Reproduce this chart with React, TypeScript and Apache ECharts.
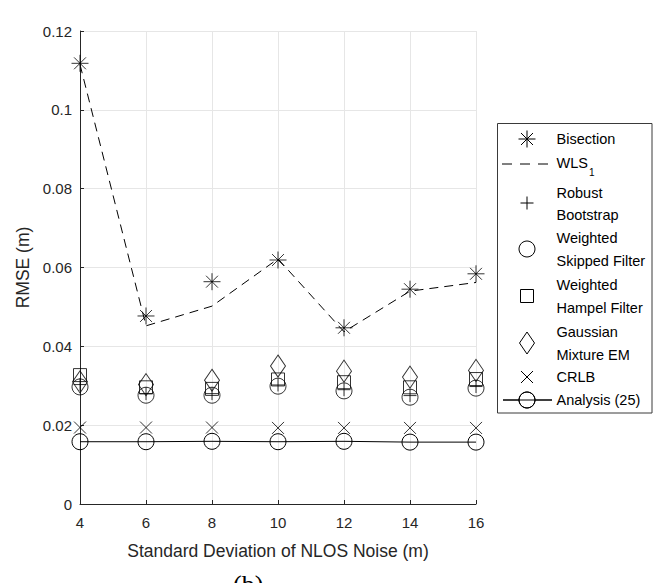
import React, { useEffect, useRef } from "react";
import * as echarts from "echarts";

const noiseStd = [4, 6, 8, 10, 12, 14, 16];
const xTicks = [4, 6, 8, 10, 12, 14, 16];
const yTicks = [0, 0.02, 0.04, 0.06, 0.08, 0.1, 0.12];

const bisection = [0.1118, 0.0477, 0.0564, 0.0619, 0.0447, 0.0545, 0.0584];
const wls1 = [0.1115, 0.0452, 0.0502, 0.0622, 0.0437, 0.054, 0.0562];
const robustBootstrap = [0.0303, 0.028, 0.028, 0.0302, 0.029, 0.0275, 0.0298];
const weightedSkipped = [0.0297, 0.0276, 0.0276, 0.0299, 0.0287, 0.0271, 0.0294];
const weightedHampel = [0.0327, 0.0296, 0.0292, 0.0316, 0.0309, 0.0296, 0.0317];
const gaussianEM = [0.031, 0.0303, 0.0314, 0.035, 0.0337, 0.0322, 0.0339];
const crlb = [0.0194, 0.0194, 0.0194, 0.0193, 0.0193, 0.0193, 0.0193];
const analysis25 = [0.0158, 0.0158, 0.0159, 0.0158, 0.0159, 0.0157, 0.0157];

const legendLabels = [
  ["Bisection"],
  ["WLS"],
  ["Robust", "Bootstrap"],
  ["Weighted", "Skipped Filter"],
  ["Weighted", "Hampel Filter"],
  ["Gaussian", "Mixture EM"],
  ["CRLB"],
  ["Analysis (25)"],
];

const FONT = "'Liberation Sans', Arial, Helvetica, sans-serif";
const AX = "#262626";

const ASTERISK = "path://M8,0V16M0,8H16M2.4,2.4L13.6,13.6M13.6,2.4L2.4,13.6";
const PLUS = "path://M6,0V12M0,6H12";
const CROSS = "path://M0,0L12,12M12,0L0,12";

const pairs = (ys: number[]) => noiseStd.map((x, i) => [x, ys[i]]);

const hollow = { color: "rgba(0,0,0,0)", borderColor: "#000", borderWidth: 1 };

function legendGraphics() {
  const g: any[] = [];
  const lx = 527;
  const tx = 556.5;
  const ts = { fill: "#000", fontSize: 14.5, fontFamily: FONT, verticalAlign: "middle", textAlign: "left" };
  g.push({ type: "rect", shape: { x: 497.5, y: 123.5, width: 154.5, height: 289.5 }, style: { fill: "#fff", stroke: "#3a3a3a", lineWidth: 1 }, z: 10 });
  const rows = [
    { lines: [139], mark: 139 },
    { lines: [163], mark: 164 },
    { lines: [193, 215], mark: 203 },
    { lines: [238, 261], mark: 249 },
    { lines: [285, 308], mark: 296 },
    { lines: [332, 355], mark: 343 },
    { lines: [377], mark: 377 },
    { lines: [400], mark: 400 },
  ];
  rows.forEach((r, i) => {
    legendLabels[i].forEach((t, j) => {
      g.push({ type: "text", x: tx, y: r.lines[j], style: { ...ts, text: t }, z: 11 });
    });
  });
  const st = { stroke: "#000", lineWidth: 1, fill: "none" };
  // subscript of WLS
  g.push({ type: "text", x: 589, y: 172, style: { ...ts, text: "1", fontSize: 10 }, z: 11 });
  // asterisk
  const a = rows[0].mark;
  g.push({ type: "line", shape: { x1: lx, y1: a - 8.5, x2: lx, y2: a + 8.5 }, style: st, z: 11 });
  g.push({ type: "line", shape: { x1: lx - 8.5, y1: a, x2: lx + 8.5, y2: a }, style: st, z: 11 });
  g.push({ type: "line", shape: { x1: lx - 6, y1: a - 6, x2: lx + 6, y2: a + 6 }, style: st, z: 11 });
  g.push({ type: "line", shape: { x1: lx + 6, y1: a - 6, x2: lx - 6, y2: a + 6 }, style: st, z: 11 });
  // dashed
  g.push({ type: "line", shape: { x1: 502, y1: rows[1].mark, x2: 555, y2: rows[1].mark }, style: { ...st, lineDash: [10, 8] }, z: 11 });
  // plus
  const p = rows[2].mark;
  g.push({ type: "line", shape: { x1: lx, y1: p - 6.5, x2: lx, y2: p + 6.5 }, style: st, z: 11 });
  g.push({ type: "line", shape: { x1: lx - 6.5, y1: p, x2: lx + 6.5, y2: p }, style: st, z: 11 });
  // circle
  g.push({ type: "circle", shape: { cx: lx, cy: rows[3].mark, r: 8 }, style: st, z: 11 });
  // square
  g.push({ type: "rect", shape: { x: lx - 6.5, y: rows[4].mark - 6.5, width: 13, height: 13 }, style: st, z: 11 });
  // diamond
  const d = rows[5].mark;
  g.push({ type: "polygon", shape: { points: [[lx, d - 11], [lx + 7.5, d], [lx, d + 11], [lx - 7.5, d]] }, style: st, z: 11 });
  // cross
  const c = rows[6].mark;
  g.push({ type: "line", shape: { x1: lx - 6, y1: c - 6, x2: lx + 6, y2: c + 6 }, style: st, z: 11 });
  g.push({ type: "line", shape: { x1: lx + 6, y1: c - 6, x2: lx - 6, y2: c + 6 }, style: st, z: 11 });
  // analysis
  const an = rows[7].mark;
  g.push({ type: "line", shape: { x1: 503, y1: an, x2: 552, y2: an }, style: st, z: 11 });
  g.push({ type: "circle", shape: { cx: lx, cy: an, r: 8 }, style: { ...st, fill: "#fff" }, z: 11 });
  g.push({ type: "line", shape: { x1: 503, y1: an, x2: 552, y2: an }, style: st, z: 12 });
  g.push({ type: "circle", shape: { cx: lx, cy: an, r: 8 }, style: st, z: 12 });
  // caption
  g.push({ type: "text", x: 233, y: 571, style: { text: "(b)", fill: "#000", fontSize: 26, fontFamily: "'Liberation Serif', 'Times New Roman', serif", textAlign: "left", verticalAlign: "top" }, z: 11 });
  return g;
}

export default function App() {
  const ref = useRef<HTMLDivElement>(null);
  useEffect(() => {
    if (!ref.current) return;
    const chart = echarts.init(ref.current, undefined, { renderer: "svg" });
    const scatter = (name: string, data: number[], symbol: string, size: any) => ({
      name,
      type: "scatter",
      data: pairs(data),
      symbol,
      symbolSize: size,
      itemStyle: hollow,
      silent: true,
    });
    chart.setOption({
      animation: false,
      backgroundColor: "#fff",
      textStyle: { fontFamily: FONT },
      grid: { left: 80, top: 31, width: 396, height: 473, containLabel: false },
      xAxis: {
        type: "value",
        min: xTicks[0],
        max: xTicks[xTicks.length - 1],
        interval: 2,
        name: "Standard Deviation of NLOS Noise (m)",
        nameLocation: "middle",
        nameGap: 38,
        nameTextStyle: { color: AX, fontSize: 17.5, fontFamily: FONT },
        axisLine: { onZero: false, lineStyle: { color: AX, width: 1 } },
        axisTick: { inside: true, length: 4, lineStyle: { color: AX } },
        axisLabel: { color: AX, fontSize: 15, fontFamily: FONT, margin: 11 },
        splitLine: { show: true, lineStyle: { color: "#e6e6e6", width: 1 } },
      },
      yAxis: {
        type: "value",
        min: yTicks[0],
        max: yTicks[yTicks.length - 1],
        interval: 0.02,
        name: "RMSE (m)",
        nameLocation: "middle",
        nameGap: 44,
        nameTextStyle: { color: AX, fontSize: 17.5, fontFamily: FONT },
        axisLine: { show: true, onZero: false, lineStyle: { color: AX, width: 1 } },
        axisTick: { show: true, inside: true, length: 4, lineStyle: { color: AX } },
        axisLabel: { color: AX, fontSize: 15, fontFamily: FONT, margin: 8, formatter: (v: number) => String(+v.toFixed(2)) },
        splitLine: { show: true, lineStyle: { color: "#e6e6e6", width: 1 } },
      },
      series: [
        {
          name: "WLS1",
          type: "line",
          data: pairs(wls1),
          symbol: "none",
          lineStyle: { color: "#000", width: 1, type: [9, 6] },
          silent: true,
        },
        {
          name: "Analysis (25)",
          type: "line",
          data: pairs(analysis25),
          symbol: "circle",
          symbolSize: 16,
          showAllSymbol: true,
          itemStyle: hollow,
          lineStyle: { color: "#000", width: 1 },
          silent: true,
        },
        scatter("Bisection", bisection, ASTERISK, 17),
        scatter("Robust Bootstrap", robustBootstrap, PLUS, 13),
        scatter("Weighted Skipped Filter", weightedSkipped, "circle", 16),
        scatter("Weighted Hampel Filter", weightedHampel, "rect", 13),
        scatter("Gaussian Mixture EM", gaussianEM, "diamond", [15, 22]),
        scatter("CRLB", crlb, CROSS, 12),
      ],
      graphic: legendGraphics(),
    });
    return () => chart.dispose();
  }, []);
  return <div ref={ref} style={{ position: "fixed", left: 0, top: 0, width: 660, height: 583, background: "#fff" }} />;
}
